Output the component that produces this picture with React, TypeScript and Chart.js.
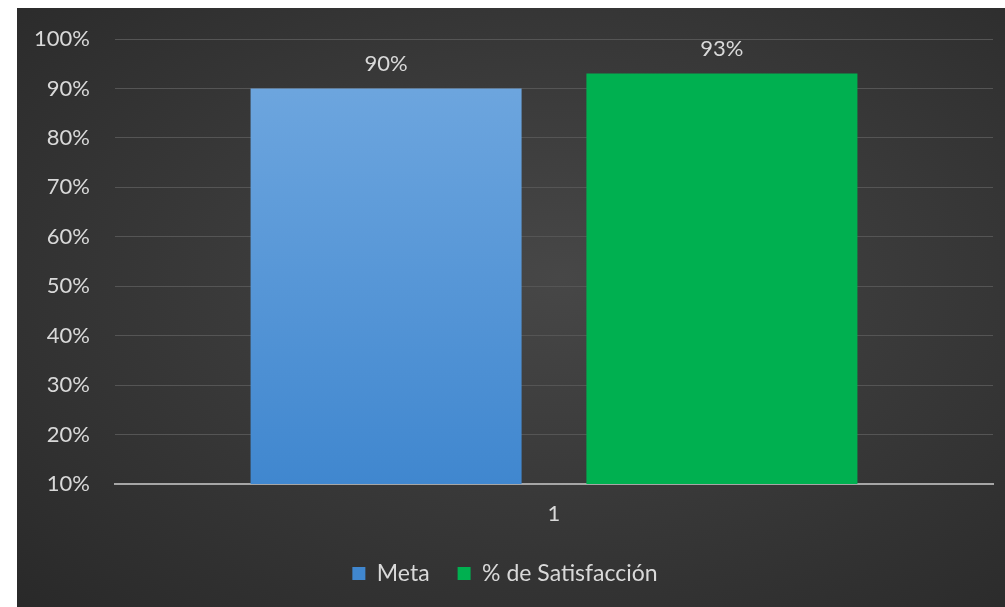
import React, { useEffect, useRef } from "react";
import { Chart, registerables } from "chart.js";

Chart.register(...registerables);

const categories = ["1"];
const metaValues = [90];
const satisfaccionValues = [93];
const seriesNames = ["Meta", "% de Satisfacción"];
const yMin = 10;
const yMax = 100;
const yStep = 10;

const FONT = "Lato, 'Open Sans', sans-serif";
const TEXT = "#d9d9d9";

const dataLabelPlugin = {
  id: "dataLabels",
  afterDatasetsDraw(chart: any) {
    const ctx = chart.ctx;
    ctx.save();
    ctx.font = `22px ${FONT}`;
    ctx.fillStyle = TEXT;
    ctx.textAlign = "center";
    ctx.textBaseline = "middle";
    chart.data.datasets.forEach((ds: any, i: number) => {
      const meta = chart.getDatasetMeta(i);
      meta.data.forEach((bar: any, j: number) => {
        ctx.fillText(`${ds.data[j]}%`, bar.x, bar.y - 25);
      });
    });
    ctx.restore();
  },
};

export default function App() {
  const ref = useRef<HTMLCanvasElement>(null);
  useEffect(() => {
    if (!ref.current) return;
    const chart = new Chart(ref.current, {
      type: "bar",
      data: {
        labels: categories,
        datasets: [
          {
            label: seriesNames[0],
            data: metaValues,
            backgroundColor: (c: any) => {
              const area = c.chart.chartArea;
              if (!area) return "#5b9bd5";
              const g = c.chart.ctx.createLinearGradient(0, area.top, 0, area.bottom);
              g.addColorStop(0, "#72a9e0");
              g.addColorStop(1, "#4087cf");
              return g;
            },
            borderWidth: 0,
          },
          {
            label: seriesNames[1],
            data: satisfaccionValues,
            backgroundColor: "#00b050",
            borderWidth: 0,
          },
        ],
      },
      options: {
        animation: false,
        responsive: true,
        maintainAspectRatio: false,
        layout: { padding: { top: 31, right: 12, left: 0, bottom: 12 } },
        datasets: {
          bar: { categoryPercentage: 0.765, barPercentage: 0.807 },
        },
        scales: {
          y: {
            min: yMin,
            max: yMax,
            ticks: {
              stepSize: yStep,
              color: TEXT,
              font: { family: FONT, size: 22 },
              padding: 25,
              callback: (v: any) => `${v}%`,
            },
            grid: { color: "#555555", lineWidth: 1, drawTicks: false },
            border: { display: false },
            afterFit: (s: any) => {
              s.width = 98;
              s.paddingTop = 0;
              s.paddingBottom = 0;
            },
          },
          x: {
            ticks: {
              color: TEXT,
              font: { family: FONT, size: 22 },
              padding: 17,
            },
            grid: { display: false, drawTicks: false },
            border: { display: true, color: "#a6a6a6", width: 2 },
            afterFit: (s: any) => {
              s.height = 50;
            },
          },
        },
        plugins: {
          legend: {
            position: "bottom",
            labels: {
              color: TEXT,
              font: { family: FONT, size: 23 },
              boxWidth: 13,
              boxHeight: 13,
              padding: 28,
            },
          },
          tooltip: { enabled: false },
        },
      },
      plugins: [dataLabelPlugin],
    } as any);
    return () => chart.destroy();
  }, []);
  return (
    <div
      style={{
        position: "fixed",
        left: 17,
        top: 8,
        width: 988,
        height: 599,
        background:
          "radial-gradient(ellipse at 55% 45%, #474747 0%, #3b3b3b 40%, #292929 100%)",
      }}
    >
      <canvas ref={ref} />
    </div>
  );
}
